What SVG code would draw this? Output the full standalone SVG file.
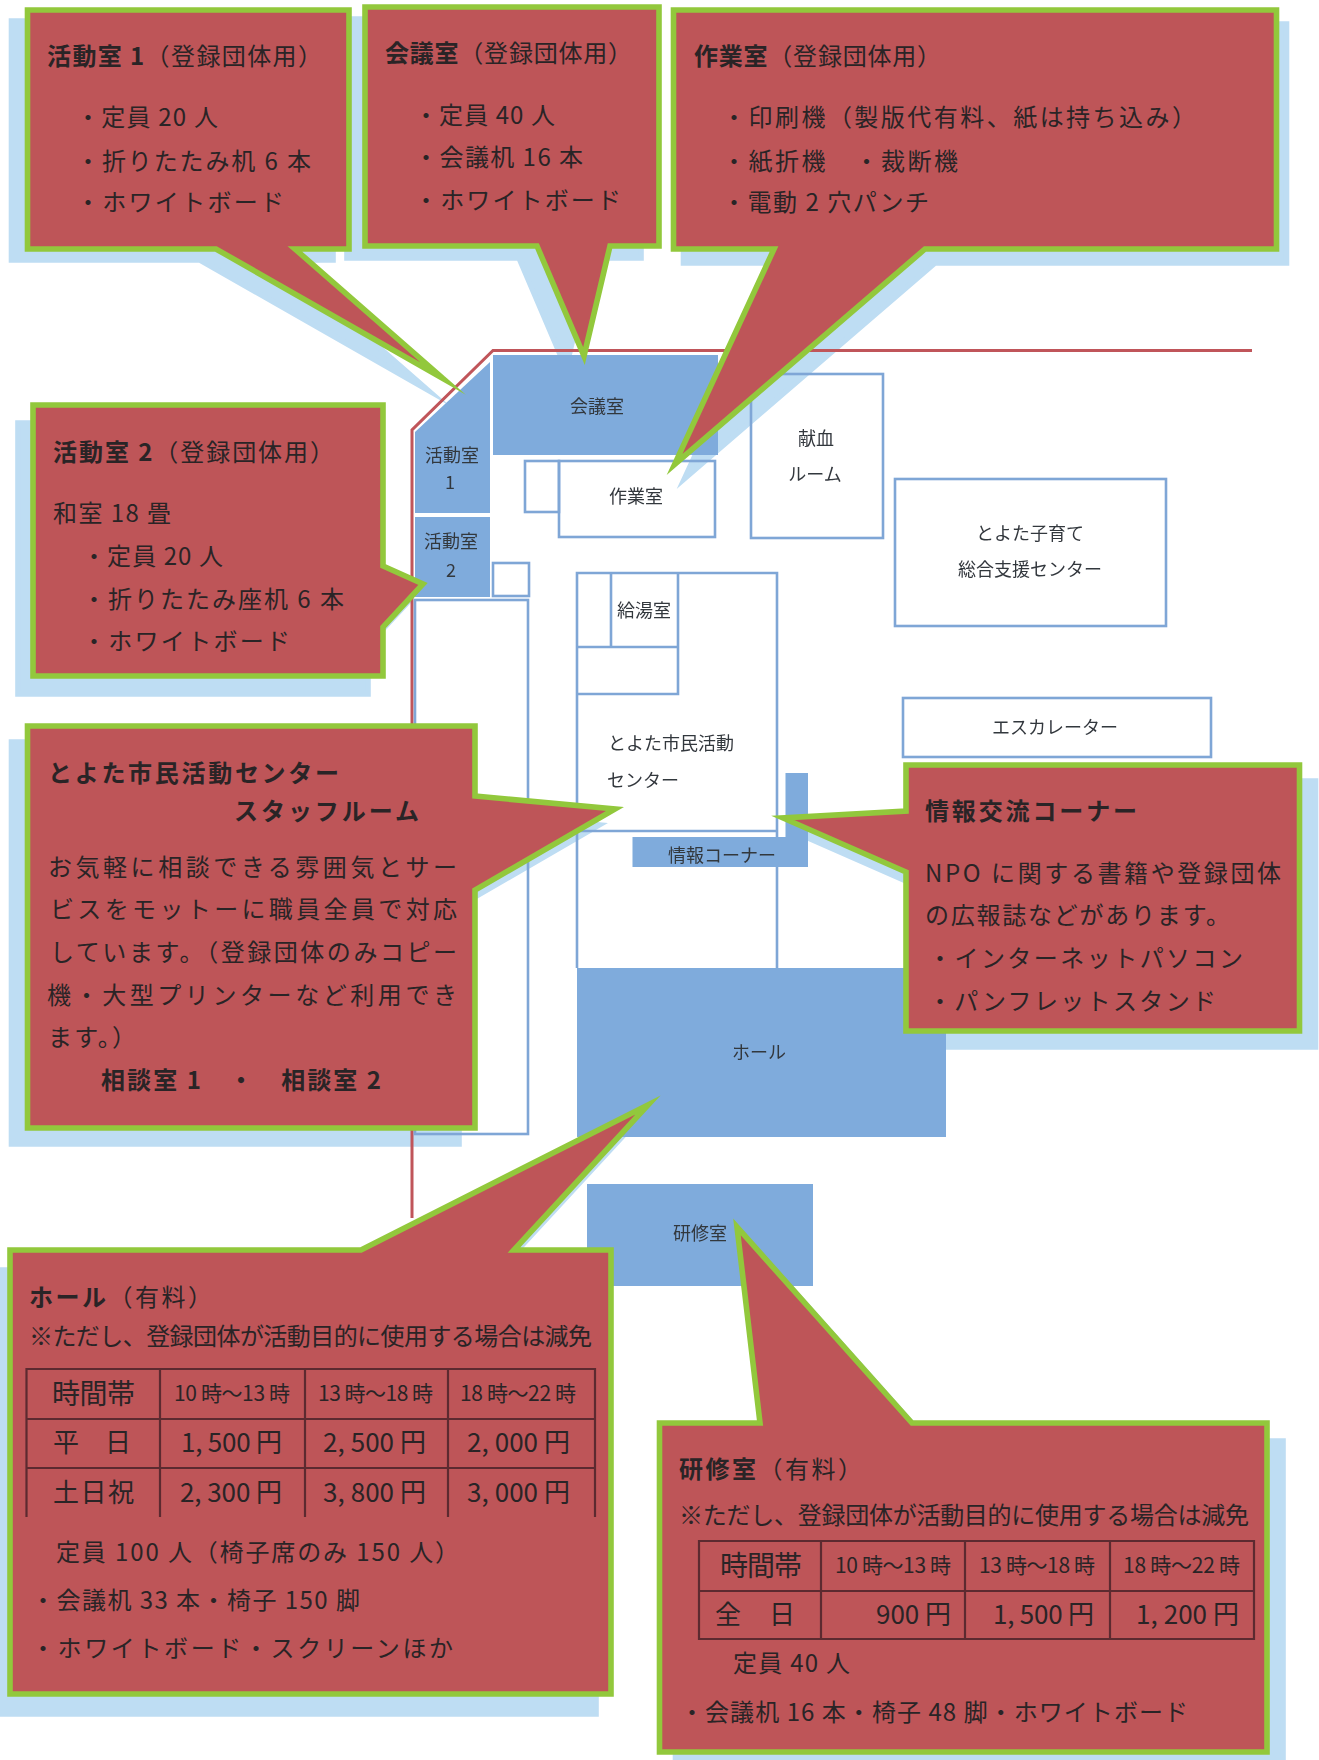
<svg xmlns="http://www.w3.org/2000/svg" xmlns:xlink="http://www.w3.org/1999/xlink" width="1319" height="1760" viewBox="0 0 1319 1760">
<style>
text{font-family:"Noto Sans CJK JP","Noto Sans",sans-serif;fill:#2a2426;font-size:24px}
.b{font-weight:700}
.s{font-size:21px}
.m{font-size:26px}
.l{font-size:28px}
.box{fill:#BE5558;stroke:#92C83C;stroke-width:5.6;stroke-miterlimit:40}
.sh{fill:#BEDDF3;stroke:#BEDDF3;stroke-width:5.6;stroke-miterlimit:40}
.wall{fill:none;stroke:#7FA6D6;stroke-width:2.6}
.blue{fill:#7FABDC}
.red{fill:none;stroke:#C0555A;stroke-width:3}
.tb{fill:none;stroke:#5C2A30;stroke-width:2.2}
.p{font-size:18px;fill:#33373d;text-anchor:middle}
</style>
<defs>
<filter id="soft" x="-5%" y="-5%" width="110%" height="110%"><feGaussianBlur stdDeviation="0.55"/></filter>
<path id="s1" d="M27.5 10H349V249H295L443 378.5L216 249H27.5Z"/>
<path id="s2" d="M365 7H659V246H610L584 356L537 246H365Z"/>
<path id="s3" d="M673.5 10H1276.5V249H925L674.6 464.4L774 249H673.5Z"/>
<path id="s4" d="M33 405H383V566L423 584L383 627V676H33Z"/>
<path id="s5" d="M27.500 726H475V796L615 809L475 890V1128H27.500Z"/>
<path id="s6" d="M906 765H1299.500V1031H906V872L783 818L906 811Z"/>
<path id="s7" d="M10 1250H361L648 1105L514 1250H611V1694H10Z"/>
<path id="s8" d="M659.5 1423H760L737 1227L912 1423H1267V1752H659.5Z"/>
</defs>

<g id="shadows">
<use xlink:href="#s1" href="#s1" class="sh" transform="translate(-16 11)"/>
<use xlink:href="#s2" href="#s2" class="sh" transform="translate(-18 12)"/>
<use xlink:href="#s3" href="#s3" class="sh" transform="translate(10 14)"/>
<use xlink:href="#s4" href="#s4" class="sh" transform="translate(-15 18)"/>
<use xlink:href="#s5" href="#s5" class="sh" transform="translate(-16 16)"/>
<use xlink:href="#s6" href="#s6" class="sh" transform="translate(16 16)"/>
<use xlink:href="#s7" href="#s7" class="sh" transform="translate(-15 20)"/>
<use xlink:href="#s8" href="#s8" class="sh" transform="translate(16 18)"/>
</g>

<g id="floorplan" filter="url(#soft)">
<path id="outer-wall" class="red" d="M1252 350.500H493L412 430V1218"/>
<g id="room-kaigi"><rect class="blue" x="493" y="355" width="225" height="100"/><text class="p" x="597" y="413">会議室</text></g>
<g id="room-katsudo1"><path class="blue" d="M490 362V513H415V432Z"/><text class="p" x="452" y="462">活動室</text><text class="p" x="450" y="489">1</text></g>
<g id="room-katsudo2"><rect class="blue" x="415" y="517" width="75" height="80"/><text class="p" x="451" y="548">活動室</text><text class="p" x="451" y="577">2</text></g>
<g id="room-small"><rect class="wall" x="493" y="563" width="36" height="33"/></g>
<g id="room-staff"><rect class="wall" x="415" y="600" width="113" height="534"/></g>
<g id="room-sagyo-side"><rect class="wall" x="525" y="461" width="34" height="51"/></g>
<g id="room-sagyo"><rect class="wall" x="559" y="461" width="156" height="76"/><text class="p" x="636" y="503">作業室</text></g>
<g id="room-kenketsu"><rect class="wall" x="751" y="374" width="132" height="164"/><text class="p" x="816" y="445">献血</text><text class="p" x="815" y="481">ルーム</text></g>
<g id="room-kosodate"><rect class="wall" x="895" y="479" width="271" height="147"/><text class="p" x="1030" y="540">とよた子育て</text><text class="p" x="1030" y="576">総合支援センター</text></g>
<g id="room-escalator"><rect class="wall" x="903" y="698" width="308" height="59"/><text class="p" x="1055" y="734">エスカレーター</text></g>
<g id="room-center">
<path class="wall" d="M577 968V573H777V968M577 831H777"/>
<path class="wall" d="M611 573V647M577 647H678M678 573V694H577"/>
<text class="p" x="644" y="617">給湯室</text>
<text class="p" x="671" y="750">とよた市民活動</text>
<text class="p" x="643" y="787">センター</text>
</g>
<g id="room-joho"><path class="blue" d="M632.500 837H785.500V773H808V867H632.500Z"/><text class="p" x="722" y="862">情報コーナー</text></g>
<g id="room-hall"><rect class="blue" x="577" y="968" width="369" height="169"/><text class="p" x="759" y="1059">ホール</text></g>
<g id="room-kenshu"><rect class="blue" x="587" y="1184" width="226" height="102"/><text class="p" x="700" y="1240">研修室</text></g>
</g>

<g id="callout-katsudo1"><use xlink:href="#s1" href="#s1" class="box"/>
<text x="47" y="65" textLength="275"><tspan class="b">活動室 1</tspan>（登録団体用）</text>
<text x="76" y="126" textLength="142">・定員 20 人</text>
<text x="76" y="170" textLength="235">・折りたたみ机 6 本</text>
<text x="76" y="211" textLength="208">・ホワイトボード</text>
</g>
<g id="callout-kaigi"><use xlink:href="#s2" href="#s2" class="box"/>
<text x="385" y="62" textLength="247"><tspan class="b">会議室</tspan>（登録団体用）</text>
<text x="414" y="124" textLength="141">・定員 40 人</text>
<text x="414" y="166" textLength="169">・会議机 16 本</text>
<text x="414" y="209" textLength="207">・ホワイトボード</text>
</g>
<g id="callout-sagyo"><use xlink:href="#s3" href="#s3" class="box"/>
<text x="694" y="65" textLength="247"><tspan class="b">作業室</tspan>（登録団体用）</text>
<text x="722" y="126" textLength="474">・印刷機（製版代有料、紙は持ち込み）</text>
<text x="722" y="170" textLength="236">・紙折機　・裁断機</text>
<text x="722" y="211" textLength="207">・電動 2 穴パンチ</text>
</g>
<g id="callout-katsudo2"><use xlink:href="#s4" href="#s4" class="box"/>
<text x="53" y="461" textLength="281"><tspan class="b">活動室 2</tspan>（登録団体用）</text>
<text x="53" y="522" textLength="118">和室 18 畳</text>
<text x="82" y="565" textLength="141">・定員 20 人</text>
<text x="82" y="608" textLength="262">・折りたたみ座机 6 本</text>
<text x="82" y="650" textLength="208">・ホワイトボード</text>
</g>
<g id="callout-staff"><use xlink:href="#s5" href="#s5" class="box"/>
<text class="b" x="48" y="782" textLength="291">とよた市民活動センター</text>
<text class="b" x="234" y="820" textLength="185">スタッフルーム</text>
<text x="48" y="876" textLength="409">お気軽に相談できる雰囲気とサー</text>
<text x="50" y="918" textLength="407">ビスをモットーに職員全員で対応</text>
<text x="50" y="961" textLength="407">しています。（登録団体のみコピー</text>
<text x="47" y="1004" textLength="410">機・大型プリンターなど利用でき</text>
<text x="48" y="1046" textLength="88">ます。）</text>
<text class="b" x="101" y="1089" textLength="280">相談室 1　・　相談室 2</text>
</g>
<g id="callout-joho"><use xlink:href="#s6" href="#s6" class="box"/>
<text class="b" x="925" y="820" textLength="212">情報交流コーナー</text>
<text x="925" y="882" textLength="356">NPO に関する書籍や登録団体</text>
<text x="925" y="924" textLength="305">の広報誌などがあります。</text>
<text x="928" y="967" textLength="315">・インターネットパソコン</text>
<text x="928" y="1010" textLength="288">・パンフレットスタンド</text>
</g>
<g id="callout-hall"><use xlink:href="#s7" href="#s7" class="box"/>
<text x="29" y="1306" textLength="183"><tspan class="b">ホール</tspan>（有料）</text>
<text x="29" y="1345" textLength="563">※ただし、登録団体が活動目的に使用する場合は減免</text>
<path class="tb" d="M26.500 1517V1369H595V1517M160 1369V1517M305 1369V1517M448 1369V1517M26.500 1419H595M26.500 1468H595"/>
<text class="l" x="52" y="1404" textLength="83">時間帯</text>
<text class="s" x="174" y="1401" textLength="116">10 時～13 時</text>
<text class="s" x="318" y="1401" textLength="115">13 時～18 時</text>
<text class="s" x="460" y="1401" textLength="116">18 時～22 時</text>
<text class="m" x="53" y="1452" textLength="78">平　日</text>
<text class="m" x="181" y="1452" textLength="101">1, 500 円</text>
<text class="m" x="323" y="1452" textLength="103">2, 500 円</text>
<text class="m" x="467" y="1452" textLength="103">2, 000 円</text>
<text class="m" x="53" y="1502" textLength="81">土日祝</text>
<text class="m" x="180" y="1502" textLength="102">2, 300 円</text>
<text class="m" x="323" y="1502" textLength="103">3, 800 円</text>
<text class="m" x="467" y="1502" textLength="103">3, 000 円</text>
<text x="56" y="1561" textLength="403">定員 100 人（椅子席のみ 150 人）</text>
<text x="31" y="1609" textLength="329">・会議机 33 本・椅子 150 脚</text>
<text x="31" y="1657" textLength="422">・ホワイトボード・スクリーンほか</text>
</g>
<g id="callout-kenshu"><use xlink:href="#s8" href="#s8" class="box"/>
<text x="679" y="1478" textLength="183"><tspan class="b">研修室</tspan>（有料）</text>
<text x="679" y="1524" textLength="570">※ただし、登録団体が活動目的に使用する場合は減免</text>
<path class="tb" d="M699 1541H1254V1639H699ZM821 1541V1639M965 1541V1639M1110 1541V1639M699 1591H1254"/>
<text class="l" x="720" y="1576" textLength="82">時間帯</text>
<text class="s" x="835" y="1573" textLength="116">10 時～13 時</text>
<text class="s" x="979" y="1573" textLength="116">13 時～18 時</text>
<text class="s" x="1123" y="1573" textLength="117">18 時～22 時</text>
<text class="m" x="715" y="1624" textLength="80">全　日</text>
<text class="m" x="876" y="1624" textLength="75">900 円</text>
<text class="m" x="993" y="1624" textLength="101">1, 500 円</text>
<text class="m" x="1136" y="1624" textLength="103">1, 200 円</text>
<text x="733" y="1672" textLength="117">定員 40 人</text>
<text x="680" y="1721" textLength="508">・会議机 16 本・椅子 48 脚・ホワイトボード</text>
</g>
</svg>
